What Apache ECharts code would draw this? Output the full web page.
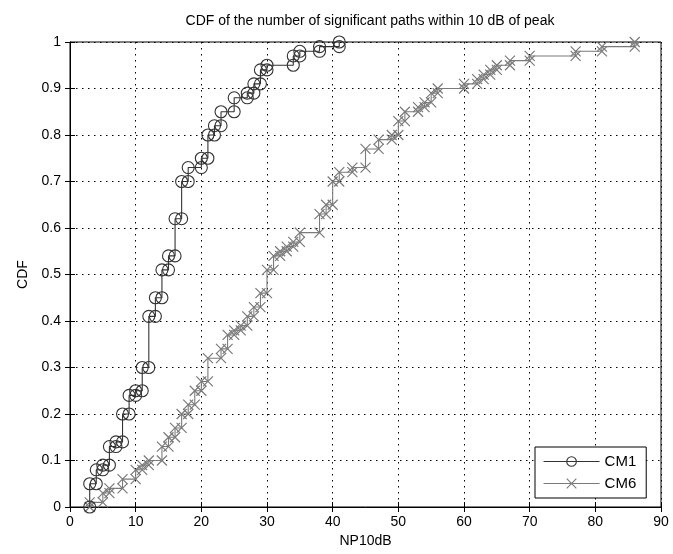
<!DOCTYPE html>
<html>
<head>
<meta charset="utf-8">
<script src="https://cdn.jsdelivr.net/npm/echarts@6/dist/echarts.min.js"></script>
<style>html,body{margin:0;padding:0;background:#fff}#c{width:673px;height:554px}</style>
</head>
<body>
<div id="c"></div>
<script>
// CM1: sample values (NP10dB) at which the empirical CDF steps, and CDF after each step
var cm1X = [3, 4, 5, 6, 7, 8, 9, 10, 11, 12, 13, 14, 15, 16, 17, 18, 20, 21, 22, 23, 25, 27, 28, 29, 30, 34, 35, 38, 41];
var cm1F = [0.05, 0.08, 0.09, 0.13, 0.14, 0.20, 0.24, 0.25, 0.30, 0.41, 0.45, 0.51, 0.54, 0.62, 0.70, 0.73, 0.75, 0.80, 0.82, 0.85, 0.88, 0.89, 0.91, 0.94, 0.95, 0.97, 0.98, 0.99, 1.00];
// CM6
var cm6X = [3, 5, 6, 8, 10, 11, 12, 14, 15, 16, 17, 18, 19, 20, 21, 23, 24, 25, 26, 27, 28, 29, 30, 31, 32, 33, 34, 35, 38, 39, 40, 41, 43, 45, 47, 49, 50, 51, 53, 54, 55, 56, 60, 62, 63, 64, 65, 67, 70, 77, 81, 86];
var cm6F = [0.01, 0.03, 0.04, 0.06, 0.08, 0.09, 0.10, 0.13, 0.15, 0.17, 0.20, 0.22, 0.25, 0.27, 0.32, 0.34, 0.37, 0.38, 0.39, 0.41, 0.43, 0.46, 0.51, 0.54, 0.55, 0.56, 0.57, 0.59, 0.63, 0.65, 0.70, 0.72, 0.73, 0.77, 0.79, 0.80, 0.83, 0.85, 0.86, 0.87, 0.89, 0.90, 0.91, 0.92, 0.93, 0.94, 0.95, 0.96, 0.97, 0.98, 0.99, 1.00];
var xTicks = [0, 10, 20, 30, 40, 50, 60, 70, 80, 90];
var yTicks = [0, 0.1, 0.2, 0.3, 0.4, 0.5, 0.6, 0.7, 0.8, 0.9, 1];

function stairs(xs, fs) {
  var out = [];
  var prev = 0;
  for (var i = 0; i < xs.length; i++) {
    out.push([xs[i], prev]);
    out.push([xs[i], fs[i]]);
    prev = fs[i];
  }
  return out;
}

var font = 'Liberation Sans, Arial, Helvetica, sans-serif';
var chart = echarts.init(document.getElementById('c'));
var dash = [1.5, 4.5];
var crossPath = 'path://M0,0L10,10M10,0L0,10';

chart.setOption({
  animation: false,
  backgroundColor: '#fff',
  title: {
    text: 'CDF of the number of significant paths within 10 dB of peak',
    left: 365, textAlign: 'center', top: 9,
    textStyle: { fontFamily: font, fontSize: 14, fontWeight: 'normal', color: '#000' }
  },
  grid: { left: 70, right: 12, top: 42, bottom: 47, show: true, borderColor: '#000', borderWidth: 1, backgroundColor: 'transparent' },
  legend: {
    orient: 'vertical', left: 535, top: 447,
    data: ['CM1', 'CM6'],
    backgroundColor: '#fff', borderColor: '#000', borderWidth: 1,
    padding: [7, 10, 7, 8], itemGap: 7, itemWidth: 56, itemHeight: 12,
    lineStyle: { width: 1.1 },
    itemStyle: { borderWidth: 1.1 },
    textStyle: { fontFamily: font, fontSize: 15, color: '#000' }
  },
  xAxis: [{
    type: 'value', min: 0, max: 90, interval: 10,
    name: 'NP10dB', nameLocation: 'middle', nameGap: 24,
    nameTextStyle: { fontFamily: font, fontSize: 14, color: '#000' },
    axisLine: { lineStyle: { color: '#000' } },
    axisTick: { inside: true, length: 5, lineStyle: { color: '#000' } },
    axisLabel: { fontFamily: font, fontSize: 14, color: '#000', margin: 8 },
    splitLine: { show: true, lineStyle: { color: '#000', type: dash, width: 1 } }
  }, {
    type: 'value', min: 0, max: 90, interval: 10, position: 'top',
    axisLine: { show: false }, axisLabel: { show: false }, splitLine: { show: false },
    axisTick: { inside: true, length: 5, lineStyle: { color: '#000' } }
  }],
  yAxis: [{
    type: 'value', min: 0, max: 1, interval: 0.1,
    name: 'CDF', nameLocation: 'middle', nameGap: 40, nameRotate: 90,
    nameTextStyle: { fontFamily: font, fontSize: 14, color: '#000' },
    axisLine: { show: true, lineStyle: { color: '#000' } },
    axisTick: { show: true, inside: true, length: 5, lineStyle: { color: '#000' } },
    axisLabel: { fontFamily: font, fontSize: 14, color: '#000', margin: 9 },
    splitLine: { show: true, lineStyle: { color: '#000', type: dash, width: 1 } }
  }, {
    type: 'value', min: 0, max: 1, interval: 0.1, position: 'right',
    axisLine: { show: false }, axisLabel: { show: false }, splitLine: { show: false },
    axisTick: { show: true, inside: true, length: 5, lineStyle: { color: '#000' } }
  }],
  series: [{
    name: 'CM1', type: 'line', data: stairs(cm1X, cm1F),
    symbol: 'circle', symbolSize: 12, showAllSymbol: true,
    lineStyle: { color: '#333333', width: 1.1 },
    itemStyle: { color: 'rgba(255,255,255,0)', borderColor: '#333333', borderWidth: 1.1 },
    z: 3
  }, {
    name: 'CM6', type: 'line', data: stairs(cm6X, cm6F),
    symbol: crossPath, symbolSize: 10, showAllSymbol: true,
    lineStyle: { color: '#7a7a7a', width: 1.1 },
    itemStyle: { color: 'rgba(255,255,255,0)', borderColor: '#7a7a7a', borderWidth: 1.2 },
    z: 2
  }]
});
</script>
</body>
</html>
